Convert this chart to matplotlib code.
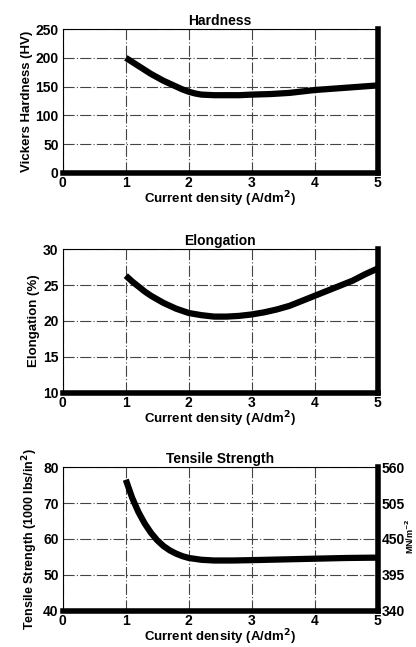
import numpy as np
import matplotlib.pyplot as plt

plt.rcParams['font.family'] = ['Liberation Sans', 'DejaVu Sans']
plt.rcParams['font.weight'] = 'bold'
plt.rcParams['axes.labelweight'] = 'bold'
plt.rcParams['axes.titleweight'] = 'bold'

# Data
cd_h = [1.0, 1.1, 1.2, 1.3, 1.4, 1.5, 1.6, 1.7, 1.8, 1.9, 2.0, 2.1, 2.2, 2.4,
        2.6, 2.8, 3.0, 3.3, 3.6, 4.0, 4.5, 5.0]
hardness = [200, 193, 186, 179, 172, 166, 160, 155, 150, 145, 141, 138, 136, 135,
            135, 135, 136, 137, 139, 144, 148, 152]

cd_e = [1.0, 1.1, 1.2, 1.3, 1.4, 1.5, 1.6, 1.7, 1.8, 1.9, 2.0, 2.2, 2.4, 2.6,
        2.8, 3.0, 3.2, 3.4, 3.6, 3.8, 4.0, 4.2, 4.4, 4.6, 4.8, 5.0]
elongation = [26.3, 25.5, 24.8, 24.1, 23.5, 23.0, 22.5, 22.1, 21.7, 21.4, 21.1, 20.8,
              20.6, 20.6, 20.7, 20.9, 21.2, 21.6, 22.1, 22.8, 23.5, 24.2, 24.9,
              25.6, 26.5, 27.3]

cd_t = [1.0, 1.05, 1.1, 1.2, 1.3, 1.4, 1.5, 1.6, 1.7, 1.8, 1.9, 2.0, 2.2, 2.4,
        2.7, 3.0, 3.5, 4.0, 4.5, 5.0]
tensile = [76.5, 74.0, 71.5, 67.5, 64.3, 61.7, 59.6, 58.0, 56.8, 55.9, 55.2, 54.7,
           54.2, 54.0, 54.0, 54.1, 54.3, 54.5, 54.7, 54.8]

xticks = [0, 1, 2, 3, 4, 5]
mn_ticks = [340, 395, 450, 505, 560]

fig = plt.figure(figsize=(4.16, 6.47), dpi=100)
panels = [
    ('Hardness', cd_h, hardness, (0, 250), [0, 50, 100, 150, 200, 250],
     'Vickers Hardness (HV)', 0.733),
    ('Elongation', cd_e, elongation, (10, 30), [10, 15, 20, 25, 30],
     'Elongation (%)', 0.393),
    ('Tensile Strength', cd_t, tensile, (40, 80), [40, 50, 60, 70, 80],
     'Tensile Strength (1000 lbs/in$^2$)', 0.056),
]

for title, xs, vals, ylim, yticks, ylab, bot in panels:
    ax = fig.add_axes([0.151, bot, 0.757, 0.222])
    ax.plot(xs, vals, color='black', lw=4.5, solid_capstyle='butt',
            solid_joinstyle='round')
    ax.set_xlim(0, 5)
    ax.set_ylim(*ylim)
    ax.set_xticks(xticks)
    ax.set_yticks(yticks)
    ax.grid(True, color='#444444', lw=0.8, ls=(0, (10, 2, 1, 2)))
    ax.tick_params(axis='x', length=0, labelsize=10, pad=2)
    ax.tick_params(axis='y', length=0, labelsize=10, pad=3)
    ax.spines['left'].set_linewidth(0.8)
    ax.spines['top'].set_linewidth(0.8)
    ax.spines['bottom'].set_linewidth(4)
    ax.spines['right'].set_linewidth(4)
    ax.set_title(title, fontsize=10, pad=3)
    ax.set_xlabel('Current density (A/dm$^2$)', fontsize=9.5, labelpad=0)
    ax.set_ylabel(ylab, fontsize=9.5, labelpad=2)
    if title == 'Tensile Strength':
        ax.yaxis.label.set_fontsize(9)
        ax2 = ax.twinx()
        ax2.set_ylim(340, 560)
        ax2.set_yticks(mn_ticks)
        ax2.tick_params(length=0, labelsize=10, pad=3)
        for s in ax2.spines.values():
            s.set_visible(False)
        fig.text(0.999, bot + 0.115, 'MN/m$^{-2}$', fontsize=6.5, rotation=90,
                 ha='right', va='center')

fig.savefig('out.png', dpi=100)
